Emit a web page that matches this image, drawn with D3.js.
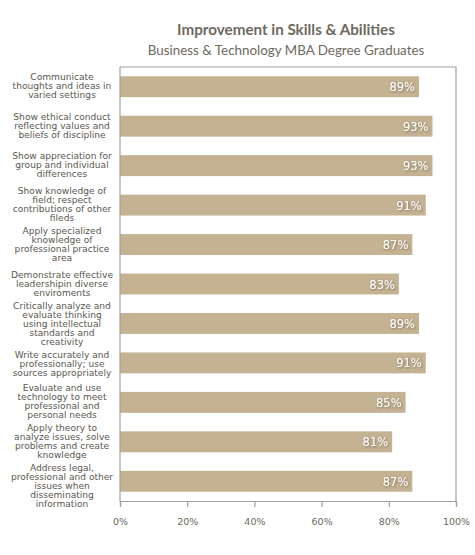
<!DOCTYPE html>
<html>
<head>
<meta charset="utf-8">
<script src="https://cdn.jsdelivr.net/npm/d3@7"></script>
<style>
html,body{margin:0;padding:0;background:#fff;}
svg{display:block;}
</style>
</head>
<body>
<svg id="chart" width="475" height="555"></svg>
<script>
const categories = [
  "Communicate|thoughts and ideas in|varied settings",
  "Show ethical conduct|reflecting values and|beliefs of discipline",
  "Show appreciation for|group and individual|differences",
  "Show knowledge of|field; respect|contributions of other|fileds",
  "Apply specialized|knowledge of|professional practice|area",
  "Demonstrate effective|leadershipin diverse|enviroments",
  "Critically analyze and|evaluate thinking|using intellectual|standards and|creativity",
  "Write accurately and|professionally; use|sources appropriately",
  "Evaluate and use|technology to meet|professional and|personal needs",
  "Apply theory to|analyze issues, solve|problems and create|knowledge",
  "Address legal,|professional and other|issues when|disseminating|information"
];
const values = [89, 93, 93, 91, 87, 83, 89, 91, 85, 81, 87];
const tickValues = [0, 20, 40, 60, 80, 100];
const titleText = "Improvement in Skills & Abilities";
const subtitleText = "Business & Technology MBA Degree Graduates";

const svg = d3.select("#chart");
const m = {left: 120, right: 19, top: 67, bottom: 54};
const W = 475, H = 555;
const x = d3.scaleLinear().domain([0, 100]).range([m.left, W - m.right]);
const y = d3.scaleBand().domain(categories).range([m.top, H - m.bottom]).paddingInner(0.47).paddingOuter(0.235);

const defs = svg.append("defs");
const f = defs.append("filter").attr("id", "sh").attr("x", "-20%").attr("y", "-30%").attr("width", "150%").attr("height", "170%");
f.append("feDropShadow").attr("dx", 0.8).attr("dy", 0.8).attr("stdDeviation", 0.8).attr("flood-color", "#5a4a30").attr("flood-opacity", 0.7);

// title
svg.append("text").attr("x", 286).attr("y", 35).attr("text-anchor", "middle")
  .attr("font-family", "Lato, 'Open Sans', sans-serif").attr("font-weight", "bold").attr("font-size", 15.2)
  .attr("fill", "#6e6a5e").text(titleText);
svg.append("text").attr("x", 286).attr("y", 55).attr("text-anchor", "middle")
  .attr("font-family", "Lato, 'Open Sans', sans-serif").attr("font-size", 13.4)
  .attr("fill", "#6e6a5e").text(subtitleText);

// frame (top, right)
svg.append("path").attr("d", `M${x(0)},${m.top}H${x(100)}V${H - m.bottom}`)
  .attr("fill", "none").attr("stroke", "#a0a0a0").attr("stroke-width", 1.2);

// bars
svg.append("g").selectAll("rect").data(values).join("rect")
  .attr("x", x(0)).attr("y", (d, i) => y(categories[i]))
  .attr("width", d => x(d) - x(0)).attr("height", y.bandwidth())
  .attr("fill", "#c4b293");

// value labels
svg.append("g").selectAll("text").data(values).join("text")
  .attr("x", d => x(d) - 4).attr("y", (d, i) => y(categories[i]) + y.bandwidth() / 2 + 4.5)
  .attr("text-anchor", "end").attr("font-family", "'DejaVu Sans', Verdana, sans-serif")
  .attr("font-size", 11.5).attr("fill", "#fff").attr("filter", "url(#sh)")
  .text(d => d + "%");

// x axis
const xAxis = svg.append("g").attr("transform", `translate(0,${H - m.bottom})`)
  .call(d3.axisBottom(x).tickValues(tickValues).tickFormat(d => d + "%").tickSize(6).tickPadding(11));
xAxis.select(".domain").attr("stroke", "#a0a0a0").attr("stroke-width", 1.2);
xAxis.selectAll(".tick line").attr("stroke", "#a0a0a0").attr("stroke-width", 1.2);
xAxis.selectAll(".tick text").attr("font-family", "'DejaVu Sans', Verdana, sans-serif").attr("font-size", 9.5).attr("fill", "#6b675a");

// y axis (left line)
svg.append("line").attr("x1", x(0)).attr("x2", x(0)).attr("y1", m.top).attr("y2", H - m.bottom)
  .attr("stroke", "#a0a0a0").attr("stroke-width", 1.2);

// category labels: centred on bars, pushed down if they would collide with the previous one
const lh = 9;
const minGap = 13;
let prevLast = -Infinity;
const lab = svg.append("g").selectAll("text").data(categories).join("text")
  .attr("text-anchor", "middle").attr("font-family", "'DejaVu Sans', Verdana, sans-serif")
  .attr("font-size", 9.1).attr("fill", "#5a5850");
lab.each(function(d) {
  const lines = d.split("|");
  const cy = y(d) + y.bandwidth() / 2 - 0.5;
  let first = cy - (lines.length - 1) * lh / 2;
  first = Math.max(first, prevLast + minGap);
  prevLast = first + (lines.length - 1) * lh;
  d3.select(this).selectAll("tspan").data(lines).join("tspan")
    .attr("x", 62).attr("y", (l, j) => first + j * lh + 3).text(l => l);
});
</script>
</body>
</html>
